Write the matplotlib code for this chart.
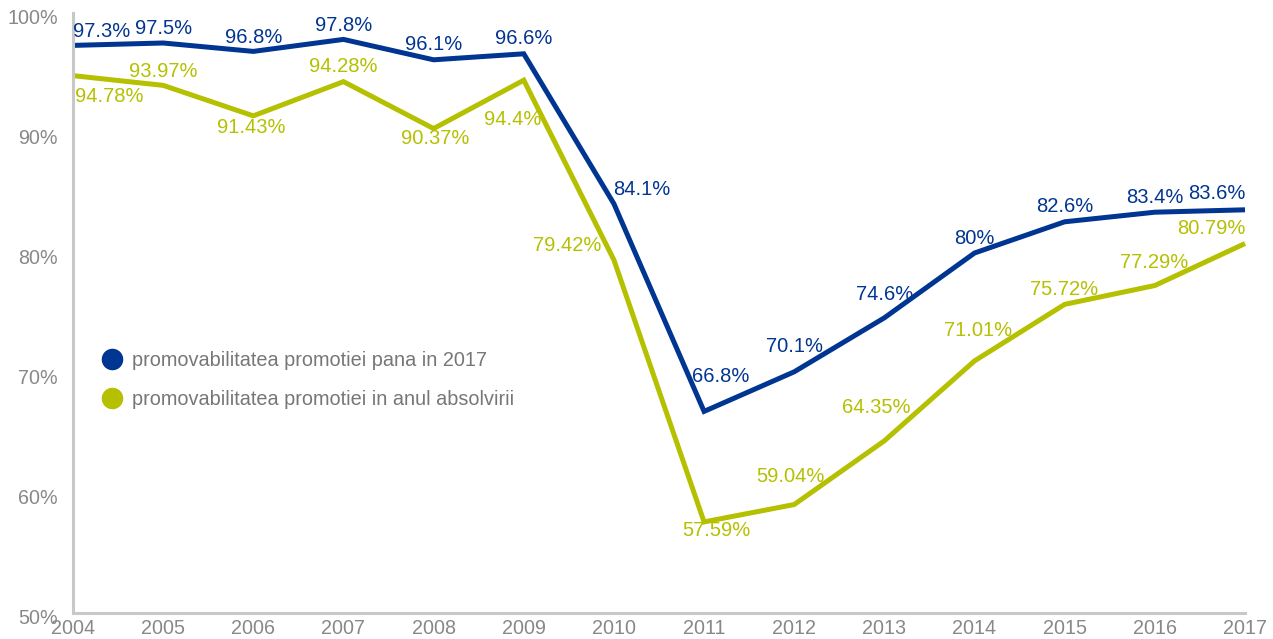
import matplotlib
matplotlib.use("Agg")
import matplotlib.pyplot as plt
from matplotlib.lines import Line2D
from matplotlib.transforms import ScaledTranslation

plt.rcParams['font.family'] = ['Liberation Sans', 'DejaVu Sans']

years = [2004, 2005, 2006, 2007, 2008, 2009, 2010, 2011, 2012, 2013, 2014, 2015, 2016, 2017]
pana_2017 = [97.3, 97.5, 96.8, 97.8, 96.1, 96.6, 84.1, 66.8, 70.1, 74.6, 80, 82.6, 83.4, 83.6]
an_absolvire = [94.78, 93.97, 91.43, 94.28, 90.37, 94.4, 79.42, 57.59, 59.04, 64.35, 71.01, 75.72, 77.29, 80.79]
pana_labels = ['97.3%', '97.5%', '96.8%', '97.8%', '96.1%', '96.6%', '84.1%', '66.8%',
               '70.1%', '74.6%', '80%', '82.6%', '83.4%', '83.6%']
abs_labels = ['94.78%', '93.97%', '91.43%', '94.28%', '90.37%', '94.4%', '79.42%', '57.59%',
              '59.04%', '64.35%', '71.01%', '75.72%', '77.29%', '80.79%']
series_names = ['promovabilitatea promotiei pana in 2017',
                'promovabilitatea promotiei in anul absolvirii']

blue = '#003591'
green = '#b5c000'
gray = '#888888'

# label offsets in pixels (dx, dy up) and alignment
pana_off = [(0, 14, 'left'), (0, 14, 'center'), (0, 14, 'center'), (0, 14, 'center'),
            (0, 15, 'center'), (0, 15, 'center'), (28, 14, 'center'), (17, 35, 'center'),
            (0, 25, 'center'), (0, 23, 'center'), (0, 15, 'center'), (0, 15, 'center'),
            (0, 15, 'center'), (0, 16, 'right')]
abs_off = [(2, -21, 'left'), (0, 14, 'center'), (-2, -12, 'center'), (0, 15, 'center'),
           (2, -10, 'center'), (-11, -39, 'center'), (-47, 14, 'center'), (12, -9, 'center'),
           (-4, 28, 'center'), (-8, 33, 'center'), (4, 30, 'center'), (-1, 15, 'center'),
           (-1, 23, 'center'), (0, 15, 'right')]

fig = plt.figure(figsize=(12.73, 6.39), dpi=100)
ax = fig.add_axes([73 / 1273, 1 - 613 / 639, 1172 / 1273, 600 / 639])

ax.plot(years, pana_2017, color=blue, lw=3.6, solid_joinstyle='miter',
        solid_capstyle='butt', clip_on=False)
ax.plot(years, an_absolvire, color=green, lw=3.6, solid_joinstyle='miter',
        solid_capstyle='butt', clip_on=False)

for x, y, t, (dx, dy, ha) in zip(years, pana_2017, pana_labels, pana_off):
    ax.annotate(t, (x, y), xytext=(dx, dy), textcoords='offset pixels', ha=ha, va='center',
                color=blue, fontsize=14.5)
for x, y, t, (dx, dy, ha) in zip(years, an_absolvire, abs_labels, abs_off):
    ax.annotate(t, (x, y), xytext=(dx, dy), textcoords='offset pixels', ha=ha, va='center',
                color=green, fontsize=14.5)

ax.set_xlim(2004, 2017)
ax.set_ylim(50, 100)
ax.set_xticks(years)
ax.set_yticks([50, 60, 70, 80, 90, 100])
ax.set_yticklabels(['50%', '60%', '70%', '80%', '90%', '100%'])
ax.tick_params(axis='both', length=0, colors=gray, labelsize=14.2)
ax.tick_params(axis='y', pad=11)
ax.tick_params(axis='x', pad=4.5)
shift = ScaledTranslation(0, -2.5 / 72, fig.dpi_scale_trans)
for lbl in ax.get_yticklabels():
    lbl.set_transform(lbl.get_transform() + shift)
for side in ['top', 'right']:
    ax.spines[side].set_visible(False)
for side in ['left', 'bottom']:
    ax.spines[side].set_color('#c8c8c8')
    ax.spines[side].set_linewidth(2.2)

handles = [Line2D([], [], ls='none', marker='o', markersize=14.5, color=blue),
           Line2D([], [], ls='none', marker='o', markersize=14.5, color=green)]
leg = ax.legend(handles, series_names, loc='center left', bbox_to_anchor=(0.0271, 0.388),
                frameon=False, fontsize=14.3, handlelength=0.73, handletextpad=0.65,
                labelspacing=1.0, borderpad=0, borderaxespad=0)
for t in leg.get_texts():
    t.set_color('#777777')

fig.savefig('out.png', dpi=100)
